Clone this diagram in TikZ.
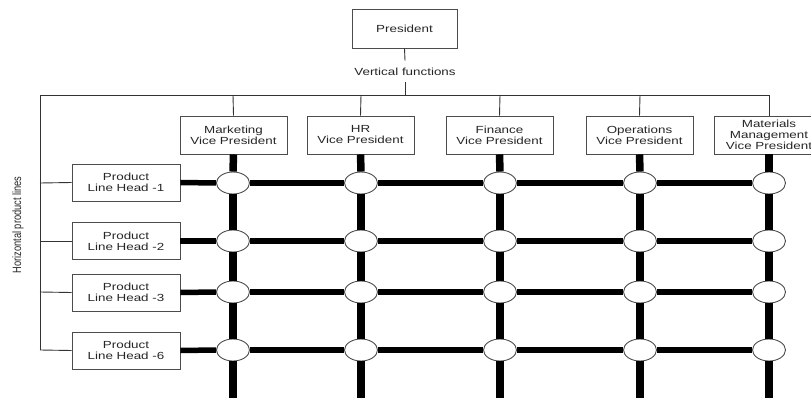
\documentclass[tikz,border=0pt]{standalone}
\usepackage{fontspec}
\usetikzlibrary{shapes.geometric}
\newfontfamily\lab{Liberation Sans}[FakeStretch=1.3]
\newfontfamily\labr{Liberation Sans}
\begin{document}
\begin{tikzpicture}[x=1pt,y=-1pt,
  thin line/.style={draw=black!80,line width=0.9pt},
  boxstyle/.style={draw=black!70,line width=0.9pt,fill=white,align=center,inner sep=0pt,
    font=\lab\fontsize{10.3}{11}\selectfont,text=black!85},
  vpbox/.style={boxstyle,minimum width=107pt,minimum height=38pt},
  plbox/.style={boxstyle,minimum width=108pt,minimum height=37pt},
  joint/.style={ellipse,draw=black!70,line width=0.9pt,fill=white,minimum width=33pt,minimum height=22pt,inner sep=0pt},
  vthick/.style={line width=7.5pt,black},
  hthick/.style={line width=5.5pt,black},
  lbl/.style={font=\lab\fontsize{10.3}{11}\selectfont,text=black!85,fill=white,inner sep=1pt}]
\useasboundingbox (0,0) rectangle (811,398);
\clip (0,0) rectangle (811,398);
% President
\node[boxstyle,minimum width=105pt,minimum height=39pt] (pres) at (404.5,28.5) {President};
\node[lbl,inner ysep=7pt] (vf) at (405,71.5) {Vertical functions};
\coordinate (busc) at (405,95);
\coordinate (busl) at (40,95);
\coordinate (busr) at (769,95);
\coordinate (leftb) at (40,350);
\draw[thin line] (pres.south) -- (vf.north);
\draw[thin line] (vf.south) -- (busc);
\draw[thin line] (busl) -- (busr);
\draw[thin line] (busl) -- (leftb);
% VP boxes
\node[vpbox] (v1) at (233.5,135) {Marketing\\Vice President};
\node[vpbox] (v2) at (360.5,135) {HR\\Vice President};
\node[vpbox] (v3) at (499.5,135) {Finance\\Vice President};
\node[vpbox] (v4) at (639.5,135) {Operations\\Vice President};
\node[vpbox,minimum width=110pt] (v5) at (769,135) {Materials\\Management\\Vice President};
\foreach \c/\x in {1/233,2/361,3/500,4/640,5/769}{
  \coordinate (t\c) at (\x,95);
  \coordinate (b\c) at (\x,402);
  \draw[thin line] (t\c) -- (v\c.north);
}
% Product line boxes
\node[plbox] (p1) at (126,182.5) {Product\\Line Head -1};
\node[plbox] (p2) at (126,241) {Product\\Line Head -2};
\node[plbox] (p3) at (126,292.5) {Product\\Line Head -3};
\node[plbox] (p4) at (126,350.5) {Product\\Line Head -6};
\foreach \r/\y in {1/183,2/241,3/292,4/350}{
  \coordinate (l\r) at (40,\y);
  \draw[thin line] (l\r) -- (p\r.west);
}
% joints
\foreach \r/\y in {1/183,2/241,3/292,4/350}{
  \foreach \c/\x in {1/233,2/361,3/500,4/640,5/769}{
    \node[joint] (e\r\c) at (\x,\y) {};
  }
}
% thick vertical lines
\foreach \c in {1,...,5}{
  \draw[vthick] (v\c.south) -- (e1\c.north);
  \draw[vthick] (e1\c.south) -- (e2\c.north);
  \draw[vthick] (e2\c.south) -- (e3\c.north);
  \draw[vthick] (e3\c.south) -- (e4\c.north);
  \draw[vthick] (e4\c.south) -- (b\c);
}
% thick horizontal lines
\foreach \r in {1,...,4}{
  \draw[hthick] (p\r.east) -- (e\r1.west);
  \draw[hthick] (e\r1.east) -- (e\r2.west);
  \draw[hthick] (e\r2.east) -- (e\r3.west);
  \draw[hthick] (e\r3.east) -- (e\r4.west);
  \draw[hthick] (e\r4.east) -- (e\r5.west);
}
% rotated label
\node[rotate=90,font=\labr\fontsize{9.3}{11}\selectfont,text=black!85] (hpl) at (18,225) {\scalebox{1}[1.3]{Horizontal product lines}};
\end{tikzpicture}
\end{document}
